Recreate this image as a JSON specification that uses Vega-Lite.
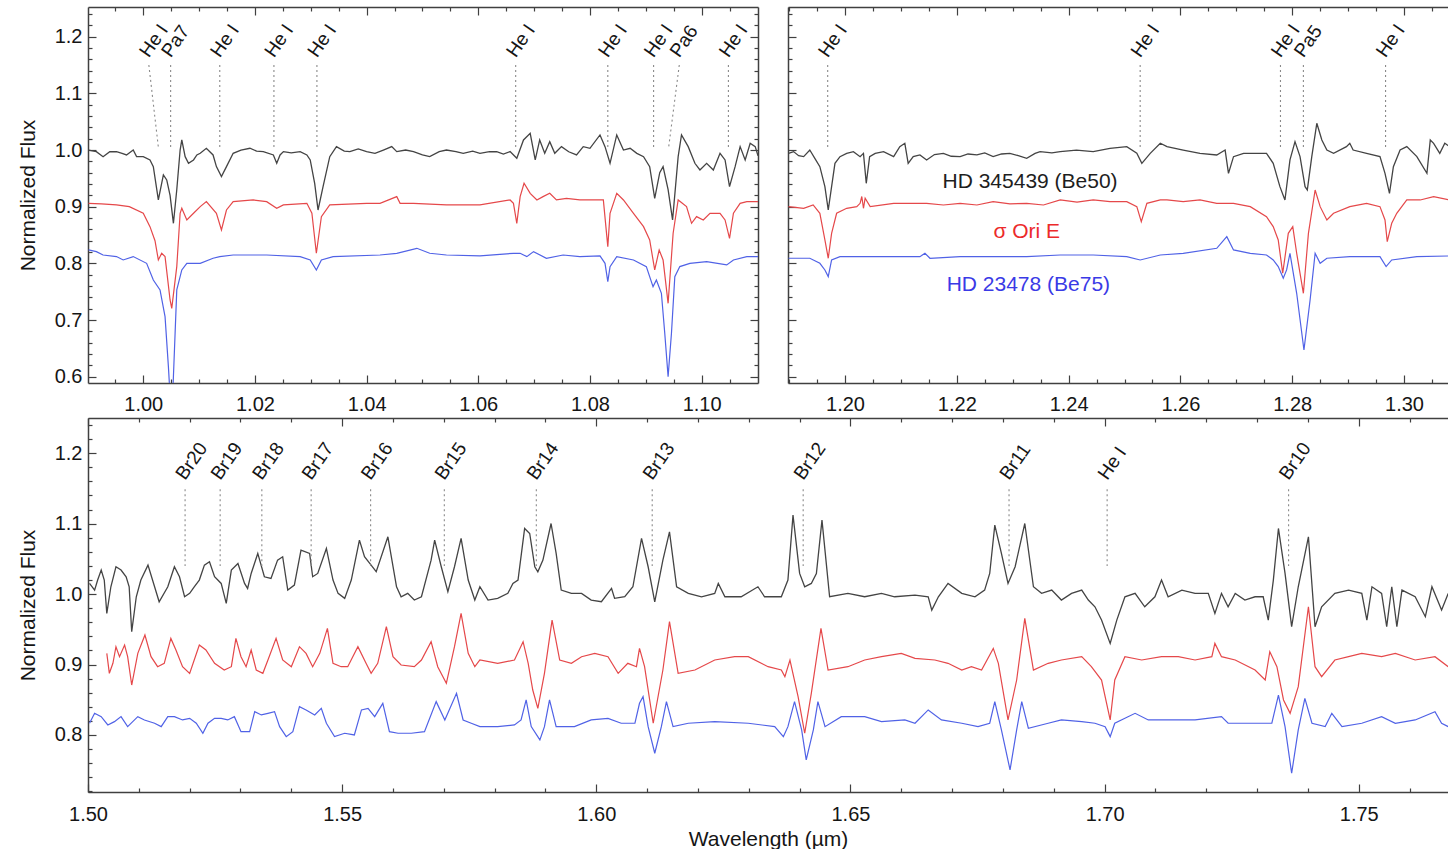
{
"$schema":"https://vega.github.io/schema/vega-lite/v6.json",
"usermeta":{"embedOptions":{"actions":false}},
"background":"white",
"padding":{"left":17,"top":6,"right":0,"bottom":0},
"config":{"font":"Liberation Sans","view":{"stroke":null},
"axis":{"grid":false,"labelFont":"Liberation Sans","labelFontSize":20,"labelColor":"#151515","titleFont":"Liberation Sans","titleFontSize":21,"titleFontWeight":"normal","titleColor":"#151515","domainColor":"#404040","domainWidth":1.5,"tickColor":"#404040","tickWidth":1.2,"labelFlush":false,"labelOverlap":false}},
"datasets":{
"tlK":[{"w":0.9902,"f":1.0},{"w":0.9916,"f":0.9972},{"w":0.9928,"f":0.9883},{"w":0.994,"f":0.997},{"w":0.9952,"f":0.9972},{"w":0.9962,"f":0.994},{"w":0.997,"f":0.9913},{"w":0.9982,"f":1.0},{"w":0.9988,"f":0.9883},{"w":1.0,"f":0.9883},{"w":1.0012,"f":0.9825},{"w":1.0018,"f":0.9707},{"w":1.0027,"f":0.912},{"w":1.0036,"f":0.956},{"w":1.0042,"f":0.9472},{"w":1.0048,"f":0.92},{"w":1.0054,"f":0.8707},{"w":1.006,"f":0.93},{"w":1.0066,"f":1.0},{"w":1.0069,"f":1.0178},{"w":1.0075,"f":0.9883},{"w":1.0081,"f":0.9766},{"w":1.009,"f":0.9825},{"w":1.0096,"f":0.9913},{"w":1.0102,"f":0.9942},{"w":1.0113,"f":1.0031},{"w":1.0125,"f":0.9913},{"w":1.0131,"f":0.9707},{"w":1.014,"f":0.9531},{"w":1.0149,"f":0.9707},{"w":1.0161,"f":0.9942},{"w":1.0175,"f":1.0},{"w":1.0191,"f":1.0031},{"w":1.0203,"f":0.998},{"w":1.0215,"f":0.9972},{"w":1.0233,"f":0.9913},{"w":1.0239,"f":0.9766},{"w":1.0245,"f":0.9913},{"w":1.0251,"f":0.9972},{"w":1.0265,"f":0.995},{"w":1.0281,"f":0.9972},{"w":1.0293,"f":0.9913},{"w":1.0299,"f":0.9825},{"w":1.0307,"f":0.9413},{"w":1.0313,"f":0.8942},{"w":1.0322,"f":0.9354},{"w":1.0334,"f":0.9883},{"w":1.0346,"f":1.006},{"w":1.036,"f":0.998},{"w":1.037,"f":0.9972},{"w":1.0385,"f":1.002},{"w":1.04,"f":0.9972},{"w":1.0415,"f":0.994},{"w":1.043,"f":1.0},{"w":1.0445,"f":1.006},{"w":1.0454,"f":0.9972},{"w":1.047,"f":1.0},{"w":1.0484,"f":0.9972},{"w":1.05,"f":0.9913},{"w":1.0513,"f":0.9883},{"w":1.053,"f":0.9972},{"w":1.0543,"f":1.0},{"w":1.056,"f":0.9972},{"w":1.0573,"f":0.9942},{"w":1.059,"f":0.998},{"w":1.0603,"f":0.9942},{"w":1.062,"f":0.997},{"w":1.0633,"f":0.9972},{"w":1.0645,"f":0.993},{"w":1.0657,"f":0.9972},{"w":1.0669,"f":0.9854},{"w":1.0681,"f":1.0178},{"w":1.0693,"f":1.0295},{"w":1.0702,"f":0.9825},{"w":1.071,"f":1.0178},{"w":1.0719,"f":0.9942},{"w":1.0728,"f":1.0148},{"w":1.0737,"f":0.9942},{"w":1.0749,"f":1.006},{"w":1.0762,"f":0.997},{"w":1.0776,"f":0.9913},{"w":1.0788,"f":1.006},{"w":1.08,"f":1.0031},{"w":1.0818,"f":1.0266},{"w":1.0827,"f":1.006},{"w":1.0836,"f":0.9766},{"w":1.0848,"f":1.0266},{"w":1.086,"f":1.0},{"w":1.0872,"f":1.0031},{"w":1.0884,"f":0.9942},{"w":1.0896,"f":0.9883},{"w":1.0907,"f":0.9707},{"w":1.0916,"f":0.9148},{"w":1.0925,"f":0.96},{"w":1.0931,"f":0.9707},{"w":1.094,"f":0.93},{"w":1.0948,"f":0.8766},{"w":1.0958,"f":0.9883},{"w":1.0964,"f":1.0266},{"w":1.0976,"f":1.006},{"w":1.0988,"f":0.9766},{"w":1.0997,"f":0.9648},{"w":1.1009,"f":0.9766},{"w":1.1021,"f":0.9648},{"w":1.1033,"f":0.9942},{"w":1.1042,"f":0.9825},{"w":1.105,"f":0.9353},{"w":1.106,"f":0.9707},{"w":1.1069,"f":1.006},{"w":1.1078,"f":0.9825},{"w":1.1087,"f":1.0119},{"w":1.1096,"f":1.006},{"w":1.1101,"f":0.99}],
"tlR":[{"w":0.9902,"f":0.906},{"w":0.9925,"f":0.905},{"w":0.9952,"f":0.9031},{"w":0.9975,"f":0.9001},{"w":1.0,"f":0.8884},{"w":1.0012,"f":0.8648},{"w":1.0021,"f":0.84},{"w":1.0027,"f":0.806},{"w":1.0033,"f":0.8178},{"w":1.0039,"f":0.812},{"w":1.0048,"f":0.7354},{"w":1.0051,"f":0.7207},{"w":1.006,"f":0.7943},{"w":1.0066,"f":0.8884},{"w":1.0069,"f":0.8972},{"w":1.0078,"f":0.8766},{"w":1.009,"f":0.8884},{"w":1.0102,"f":0.9001},{"w":1.0113,"f":0.9089},{"w":1.0131,"f":0.8884},{"w":1.014,"f":0.8589},{"w":1.0149,"f":0.8942},{"w":1.0161,"f":0.9089},{"w":1.0197,"f":0.9119},{"w":1.0221,"f":0.9089},{"w":1.0239,"f":0.8972},{"w":1.0251,"f":0.9031},{"w":1.0293,"f":0.906},{"w":1.0302,"f":0.8884},{"w":1.031,"f":0.8178},{"w":1.0319,"f":0.8825},{"w":1.0334,"f":0.9031},{"w":1.04,"f":0.906},{"w":1.0424,"f":0.906},{"w":1.0454,"f":0.9178},{"w":1.046,"f":0.906},{"w":1.0484,"f":0.906},{"w":1.0543,"f":0.9031},{"w":1.0603,"f":0.9031},{"w":1.0657,"f":0.9119},{"w":1.0663,"f":0.906},{"w":1.0669,"f":0.8707},{"w":1.0675,"f":0.9178},{"w":1.0682,"f":0.9413},{"w":1.0693,"f":0.9236},{"w":1.0705,"f":0.9119},{"w":1.0716,"f":0.9178},{"w":1.0728,"f":0.9236},{"w":1.074,"f":0.9119},{"w":1.0758,"f":0.9148},{"w":1.0782,"f":0.9119},{"w":1.0806,"f":0.9119},{"w":1.0824,"f":0.9119},{"w":1.0832,"f":0.8295},{"w":1.0836,"f":0.8884},{"w":1.0848,"f":0.9236},{"w":1.086,"f":0.9119},{"w":1.0878,"f":0.8884},{"w":1.0896,"f":0.8648},{"w":1.0907,"f":0.8413},{"w":1.0916,"f":0.7884},{"w":1.0924,"f":0.8237},{"w":1.0931,"f":0.806},{"w":1.094,"f":0.7295},{"w":1.0949,"f":0.8531},{"w":1.0958,"f":0.9119},{"w":1.0973,"f":0.9001},{"w":1.0982,"f":0.8707},{"w":1.0991,"f":0.8825},{"w":1.1003,"f":0.8766},{"w":1.1015,"f":0.8884},{"w":1.1033,"f":0.8884},{"w":1.1042,"f":0.8766},{"w":1.105,"f":0.8442},{"w":1.1057,"f":0.8884},{"w":1.1069,"f":0.906},{"w":1.1081,"f":0.9089},{"w":1.1101,"f":0.9089}],
"tlB":[{"w":0.9902,"f":0.8237},{"w":0.9916,"f":0.8207},{"w":0.9928,"f":0.8148},{"w":0.9952,"f":0.812},{"w":0.9964,"f":0.806},{"w":0.9982,"f":0.812},{"w":1.0006,"f":0.8001},{"w":1.0018,"f":0.7707},{"w":1.003,"f":0.7531},{"w":1.0039,"f":0.706},{"w":1.0045,"f":0.6178},{"w":1.0049,"f":0.55},{"w":1.0052,"f":0.55},{"w":1.0057,"f":0.6766},{"w":1.006,"f":0.7531},{"w":1.0069,"f":0.7884},{"w":1.0078,"f":0.8001},{"w":1.0102,"f":0.8001},{"w":1.0125,"f":0.809},{"w":1.0137,"f":0.8119},{"w":1.0161,"f":0.8148},{"w":1.0221,"f":0.8148},{"w":1.0281,"f":0.8119},{"w":1.0299,"f":0.806},{"w":1.031,"f":0.7884},{"w":1.0319,"f":0.806},{"w":1.034,"f":0.8119},{"w":1.0424,"f":0.8148},{"w":1.0454,"f":0.8178},{"w":1.049,"f":0.8266},{"w":1.0513,"f":0.8178},{"w":1.0543,"f":0.8148},{"w":1.0603,"f":0.8131},{"w":1.0663,"f":0.8178},{"w":1.0675,"f":0.8178},{"w":1.0687,"f":0.8119},{"w":1.0699,"f":0.8207},{"w":1.0722,"f":0.809},{"w":1.0752,"f":0.8148},{"w":1.0782,"f":0.8119},{"w":1.0818,"f":0.8131},{"w":1.0827,"f":0.8001},{"w":1.0832,"f":0.7678},{"w":1.0836,"f":0.7943},{"w":1.0848,"f":0.8119},{"w":1.0878,"f":0.806},{"w":1.0901,"f":0.7943},{"w":1.0913,"f":0.759},{"w":1.0919,"f":0.7707},{"w":1.0928,"f":0.7472},{"w":1.0934,"f":0.6766},{"w":1.094,"f":0.6001},{"w":1.0946,"f":0.6766},{"w":1.0952,"f":0.7766},{"w":1.0961,"f":0.7943},{"w":1.0979,"f":0.8001},{"w":1.1009,"f":0.8031},{"w":1.1045,"f":0.7972},{"w":1.1057,"f":0.806},{"w":1.1081,"f":0.8119},{"w":1.1101,"f":0.8119}],
"trK":[{"w":1.1899,"f":0.9942},{"w":1.1908,"f":0.9972},{"w":1.1917,"f":0.99},{"w":1.1926,"f":0.9883},{"w":1.1937,"f":1.0},{"w":1.1946,"f":0.9854},{"w":1.1955,"f":0.9707},{"w":1.1964,"f":0.9354},{"w":1.197,"f":0.8942},{"w":1.1976,"f":0.9354},{"w":1.1982,"f":0.9766},{"w":1.1991,"f":0.9883},{"w":1.2003,"f":0.9942},{"w":1.2015,"f":0.9972},{"w":1.2027,"f":0.9883},{"w":1.2033,"f":0.9942},{"w":1.2038,"f":0.9413},{"w":1.2044,"f":0.9883},{"w":1.2054,"f":0.9942},{"w":1.2069,"f":0.9972},{"w":1.2087,"f":0.9883},{"w":1.2098,"f":1.006},{"w":1.2107,"f":1.0119},{"w":1.2113,"f":0.9766},{"w":1.2122,"f":0.9883},{"w":1.2134,"f":0.9913},{"w":1.2146,"f":0.9825},{"w":1.216,"f":0.992},{"w":1.2176,"f":0.9942},{"w":1.219,"f":0.989},{"w":1.2206,"f":0.9883},{"w":1.222,"f":0.993},{"w":1.2236,"f":0.9913},{"w":1.225,"f":0.995},{"w":1.2265,"f":0.9883},{"w":1.228,"f":0.993},{"w":1.2295,"f":0.9942},{"w":1.231,"f":0.99},{"w":1.2325,"f":0.9854},{"w":1.234,"f":0.994},{"w":1.2349,"f":0.9972},{"w":1.237,"f":0.995},{"w":1.2385,"f":0.9972},{"w":1.2414,"f":1.0},{"w":1.2444,"f":0.9972},{"w":1.2474,"f":1.0031},{"w":1.2504,"f":1.006},{"w":1.2522,"f":0.9942},{"w":1.2531,"f":0.9766},{"w":1.2546,"f":0.9942},{"w":1.2564,"f":1.0119},{"w":1.2576,"f":1.006},{"w":1.2605,"f":1.0},{"w":1.2635,"f":0.9942},{"w":1.2665,"f":0.9913},{"w":1.268,"f":1.0},{"w":1.2686,"f":0.9589},{"w":1.2695,"f":0.9883},{"w":1.2713,"f":0.9942},{"w":1.2731,"f":0.9942},{"w":1.2754,"f":0.9942},{"w":1.2766,"f":0.9766},{"w":1.2778,"f":0.9354},{"w":1.2787,"f":0.9119},{"w":1.2796,"f":0.9825},{"w":1.2805,"f":1.0148},{"w":1.2814,"f":0.9883},{"w":1.2823,"f":0.9354},{"w":1.2827,"f":0.9295},{"w":1.2835,"f":0.9883},{"w":1.2844,"f":1.0472},{"w":1.2853,"f":1.0178},{"w":1.2862,"f":1.0},{"w":1.2874,"f":0.9942},{"w":1.2897,"f":1.006},{"w":1.2903,"f":1.0119},{"w":1.2909,"f":1.0},{"w":1.2933,"f":0.9942},{"w":1.2957,"f":0.9883},{"w":1.2966,"f":0.9589},{"w":1.2974,"f":0.9236},{"w":1.2981,"f":0.9707},{"w":1.2993,"f":1.0},{"w":1.3005,"f":1.006},{"w":1.3023,"f":0.9883},{"w":1.3041,"f":0.9589},{"w":1.3047,"f":1.0178},{"w":1.3053,"f":1.0119},{"w":1.3064,"f":0.9942},{"w":1.3073,"f":1.0119},{"w":1.3082,"f":1.006}],
"trR":[{"w":1.1899,"f":0.9001},{"w":1.1926,"f":0.8972},{"w":1.1943,"f":0.9031},{"w":1.1955,"f":0.8884},{"w":1.1964,"f":0.8413},{"w":1.197,"f":0.809},{"w":1.1976,"f":0.853},{"w":1.1985,"f":0.8884},{"w":1.2003,"f":0.8972},{"w":1.2021,"f":0.9001},{"w":1.2027,"f":0.906},{"w":1.203,"f":0.918},{"w":1.2033,"f":0.8972},{"w":1.2036,"f":0.915},{"w":1.2045,"f":0.9001},{"w":1.2087,"f":0.906},{"w":1.2146,"f":0.906},{"w":1.2176,"f":0.903},{"w":1.2206,"f":0.906},{"w":1.2236,"f":0.903},{"w":1.2265,"f":0.9089},{"w":1.2295,"f":0.905},{"w":1.2325,"f":0.906},{"w":1.2355,"f":0.903},{"w":1.2385,"f":0.9119},{"w":1.2415,"f":0.908},{"w":1.2444,"f":0.9119},{"w":1.2474,"f":0.909},{"w":1.2504,"f":0.9089},{"w":1.2522,"f":0.9001},{"w":1.253,"f":0.8736},{"w":1.254,"f":0.906},{"w":1.2564,"f":0.9119},{"w":1.2576,"f":0.9119},{"w":1.2605,"f":0.9089},{"w":1.2635,"f":0.9119},{"w":1.2665,"f":0.906},{"w":1.2695,"f":0.906},{"w":1.2725,"f":0.9001},{"w":1.2754,"f":0.8825},{"w":1.2766,"f":0.8648},{"w":1.2775,"f":0.8413},{"w":1.2783,"f":0.7825},{"w":1.2793,"f":0.853},{"w":1.2801,"f":0.8648},{"w":1.2808,"f":0.8178},{"w":1.282,"f":0.7472},{"w":1.2829,"f":0.853},{"w":1.2841,"f":0.9295},{"w":1.285,"f":0.9001},{"w":1.2862,"f":0.8766},{"w":1.2874,"f":0.8884},{"w":1.2903,"f":0.9001},{"w":1.2933,"f":0.906},{"w":1.2957,"f":0.9001},{"w":1.2966,"f":0.8766},{"w":1.297,"f":0.8384},{"w":1.2978,"f":0.8707},{"w":1.2987,"f":0.8884},{"w":1.3005,"f":0.9119},{"w":1.3029,"f":0.9119},{"w":1.3053,"f":0.9178},{"w":1.3082,"f":0.9119}],
"trB":[{"w":1.1899,"f":0.809},{"w":1.1937,"f":0.809},{"w":1.1955,"f":0.8001},{"w":1.1964,"f":0.7884},{"w":1.197,"f":0.7766},{"w":1.1976,"f":0.806},{"w":1.1991,"f":0.8119},{"w":1.2027,"f":0.8119},{"w":1.2087,"f":0.8119},{"w":1.2134,"f":0.8119},{"w":1.2143,"f":0.8178},{"w":1.2152,"f":0.809},{"w":1.2206,"f":0.8119},{"w":1.2265,"f":0.8119},{"w":1.2325,"f":0.8119},{"w":1.2385,"f":0.8148},{"w":1.2444,"f":0.8148},{"w":1.2504,"f":0.8119},{"w":1.2528,"f":0.806},{"w":1.2564,"f":0.8148},{"w":1.2605,"f":0.8178},{"w":1.2665,"f":0.8266},{"w":1.2683,"f":0.8472},{"w":1.2695,"f":0.8237},{"w":1.2725,"f":0.8178},{"w":1.2754,"f":0.8148},{"w":1.2766,"f":0.806},{"w":1.2775,"f":0.7943},{"w":1.2784,"f":0.7737},{"w":1.279,"f":0.7884},{"w":1.2796,"f":0.8178},{"w":1.2808,"f":0.7472},{"w":1.2821,"f":0.6472},{"w":1.2832,"f":0.7354},{"w":1.2841,"f":0.8178},{"w":1.285,"f":0.8001},{"w":1.2862,"f":0.809},{"w":1.2903,"f":0.8119},{"w":1.2957,"f":0.8119},{"w":1.2968,"f":0.7943},{"w":1.2978,"f":0.806},{"w":1.3023,"f":0.8119},{"w":1.3082,"f":0.8131}],
"btK":[{"w":1.5003,"f":1.0151},{"w":1.5013,"f":1.0057},{"w":1.5019,"f":1.0199},{"w":1.5026,"f":1.0341},{"w":1.5032,"f":1.0199},{"w":1.5037,"f":0.9726},{"w":1.5045,"f":1.0104},{"w":1.5055,"f":1.0388},{"w":1.5065,"f":1.0341},{"w":1.5075,"f":1.0246},{"w":1.5081,"f":1.0104},{"w":1.5086,"f":0.9466},{"w":1.5095,"f":0.9962},{"w":1.5104,"f":1.0199},{"w":1.5118,"f":1.0411},{"w":1.5131,"f":1.0104},{"w":1.514,"f":0.9891},{"w":1.5157,"f":1.0104},{"w":1.517,"f":1.0388},{"w":1.518,"f":1.0246},{"w":1.519,"f":0.9962},{"w":1.52,"f":1.001},{"w":1.5209,"f":1.0104},{"w":1.5219,"f":1.0199},{"w":1.5229,"f":1.0411},{"w":1.5239,"f":1.0459},{"w":1.5249,"f":1.0246},{"w":1.5262,"f":1.0151},{"w":1.5272,"f":0.9868},{"w":1.5282,"f":1.0341},{"w":1.5295,"f":1.0435},{"w":1.5308,"f":1.0151},{"w":1.5314,"f":1.008},{"w":1.5321,"f":1.0293},{"w":1.5334,"f":1.0577},{"w":1.5347,"f":1.0246},{"w":1.536,"f":1.0222},{"w":1.5373,"f":1.0482},{"w":1.5383,"f":1.053},{"w":1.5393,"f":1.0057},{"w":1.5406,"f":1.0128},{"w":1.5419,"f":1.0624},{"w":1.5436,"f":1.0577},{"w":1.5442,"f":1.0246},{"w":1.5452,"f":1.0293},{"w":1.5469,"f":1.0648},{"w":1.5482,"f":1.0199},{"w":1.5492,"f":1.001},{"w":1.5505,"f":0.9939},{"w":1.5518,"f":1.0199},{"w":1.5534,"f":1.0766},{"w":1.5544,"f":1.053},{"w":1.5557,"f":1.0411},{"w":1.5567,"f":1.0317},{"w":1.559,"f":1.0813},{"w":1.5607,"f":1.0104},{"w":1.5616,"f":0.9962},{"w":1.5629,"f":1.001},{"w":1.5642,"f":0.9915},{"w":1.5656,"f":0.9962},{"w":1.5675,"f":1.0482},{"w":1.5682,"f":1.0766},{"w":1.5695,"f":1.0388},{"w":1.5708,"f":1.0033},{"w":1.5721,"f":1.0388},{"w":1.5734,"f":1.079},{"w":1.5748,"f":1.0199},{"w":1.5761,"f":0.9915},{"w":1.5771,"f":1.0104},{"w":1.5787,"f":0.9915},{"w":1.5806,"f":0.9939},{"w":1.5826,"f":1.001},{"w":1.5836,"f":1.0151},{"w":1.5846,"f":1.0199},{"w":1.5859,"f":1.0932},{"w":1.5869,"f":1.0861},{"w":1.5879,"f":1.0388},{"w":1.5885,"f":1.0317},{"w":1.5895,"f":1.0482},{"w":1.5911,"f":1.1002},{"w":1.5921,"f":1.0577},{"w":1.5931,"f":1.0057},{"w":1.5951,"f":1.001},{"w":1.5971,"f":1.001},{"w":1.599,"f":0.9915},{"w":1.601,"f":0.9891},{"w":1.603,"f":1.008},{"w":1.6036,"f":0.9939},{"w":1.6056,"f":0.9962},{"w":1.6072,"f":1.0104},{"w":1.6089,"f":1.079},{"w":1.6102,"f":1.0388},{"w":1.6115,"f":0.9891},{"w":1.6131,"f":1.0482},{"w":1.6144,"f":1.0884},{"w":1.6158,"f":1.0104},{"w":1.6181,"f":1.001},{"w":1.6207,"f":0.9962},{"w":1.6233,"f":1.001},{"w":1.624,"f":1.0151},{"w":1.6253,"f":0.9962},{"w":1.6285,"f":0.9962},{"w":1.6318,"f":1.0104},{"w":1.6331,"f":0.9962},{"w":1.6364,"f":0.9962},{"w":1.6377,"f":1.0199},{"w":1.6387,"f":1.1121},{"w":1.64,"f":1.0293},{"w":1.641,"f":1.0104},{"w":1.6423,"f":1.0151},{"w":1.6433,"f":1.0293},{"w":1.6444,"f":1.105},{"w":1.6459,"f":0.9962},{"w":1.6495,"f":1.001},{"w":1.6528,"f":0.9962},{"w":1.6561,"f":1.001},{"w":1.6587,"f":0.9962},{"w":1.6627,"f":0.9986},{"w":1.6653,"f":0.9962},{"w":1.666,"f":0.9773},{"w":1.6673,"f":0.9962},{"w":1.6692,"f":1.0151},{"w":1.6719,"f":1.001},{"w":1.6745,"f":0.9962},{"w":1.6764,"f":1.0057},{"w":1.6774,"f":1.0293},{"w":1.6784,"f":1.0979},{"w":1.6797,"f":1.0577},{"w":1.681,"f":1.0151},{"w":1.6824,"f":1.0388},{"w":1.6843,"f":1.1002},{"w":1.686,"f":1.0104},{"w":1.6876,"f":1.001},{"w":1.6896,"f":1.0057},{"w":1.6915,"f":0.9915},{"w":1.6935,"f":1.001},{"w":1.6955,"f":1.0057},{"w":1.6968,"f":0.9915},{"w":1.6981,"f":0.982},{"w":1.6994,"f":0.9631},{"w":1.7011,"f":0.93},{"w":1.7024,"f":0.9631},{"w":1.704,"f":0.9962},{"w":1.706,"f":1.001},{"w":1.7079,"f":0.982},{"w":1.7099,"f":0.9962},{"w":1.7112,"f":1.0199},{"w":1.7125,"f":0.9962},{"w":1.7152,"f":1.0057},{"w":1.7178,"f":1.001},{"w":1.7204,"f":1.001},{"w":1.7217,"f":0.9726},{"w":1.723,"f":1.001},{"w":1.7243,"f":0.982},{"w":1.7257,"f":1.001},{"w":1.7276,"f":0.9915},{"w":1.7296,"f":0.9962},{"w":1.7312,"f":0.9962},{"w":1.7322,"f":0.9631},{"w":1.7332,"f":1.0199},{"w":1.7342,"f":1.0932},{"w":1.7355,"f":1.0293},{"w":1.7368,"f":0.9537},{"w":1.7381,"f":1.0104},{"w":1.7401,"f":1.0813},{"w":1.7414,"f":0.9537},{"w":1.7427,"f":0.982},{"w":1.7453,"f":1.001},{"w":1.748,"f":1.0057},{"w":1.7506,"f":1.001},{"w":1.7516,"f":0.9631},{"w":1.7526,"f":1.0104},{"w":1.7545,"f":1.001},{"w":1.7555,"f":0.9537},{"w":1.7565,"f":1.0104},{"w":1.7575,"f":0.9537},{"w":1.7585,"f":1.0057},{"w":1.7611,"f":0.9962},{"w":1.7631,"f":0.9679},{"w":1.7644,"f":1.0104},{"w":1.7663,"f":0.9773},{"w":1.7676,"f":1.001}],
"btR":[{"w":1.5037,"f":0.9158},{"w":1.5042,"f":0.8875},{"w":1.5049,"f":0.9017},{"w":1.5055,"f":0.9253},{"w":1.5062,"f":0.9111},{"w":1.5072,"f":0.9277},{"w":1.5078,"f":0.9111},{"w":1.5086,"f":0.8709},{"w":1.5098,"f":0.9158},{"w":1.5112,"f":0.9419},{"w":1.5124,"f":0.9111},{"w":1.5137,"f":0.8969},{"w":1.515,"f":0.9017},{"w":1.5163,"f":0.9371},{"w":1.5173,"f":0.9206},{"w":1.5186,"f":0.8969},{"w":1.52,"f":0.8875},{"w":1.5219,"f":0.9277},{"w":1.5232,"f":0.9206},{"w":1.5249,"f":0.9017},{"w":1.5268,"f":0.8922},{"w":1.5282,"f":0.8969},{"w":1.5291,"f":0.9371},{"w":1.5301,"f":0.9111},{"w":1.5311,"f":0.8969},{"w":1.5321,"f":0.9206},{"w":1.5331,"f":0.8922},{"w":1.5344,"f":0.8875},{"w":1.5354,"f":0.9064},{"w":1.537,"f":0.9371},{"w":1.5383,"f":0.9064},{"w":1.54,"f":0.8969},{"w":1.5416,"f":0.9253},{"w":1.5429,"f":0.9158},{"w":1.5442,"f":0.8969},{"w":1.5456,"f":0.9158},{"w":1.5471,"f":0.9513},{"w":1.5482,"f":0.9017},{"w":1.5498,"f":0.8969},{"w":1.5511,"f":0.8969},{"w":1.5531,"f":0.9253},{"w":1.5547,"f":0.9017},{"w":1.5557,"f":0.8875},{"w":1.557,"f":0.9017},{"w":1.5587,"f":0.9537},{"w":1.56,"f":0.9111},{"w":1.5616,"f":0.8993},{"w":1.5642,"f":0.8969},{"w":1.5656,"f":0.9064},{"w":1.5675,"f":0.9324},{"w":1.5688,"f":0.8969},{"w":1.5705,"f":0.8733},{"w":1.5721,"f":0.9253},{"w":1.5734,"f":0.9726},{"w":1.5748,"f":0.9158},{"w":1.5761,"f":0.8969},{"w":1.5771,"f":0.9064},{"w":1.5806,"f":0.9017},{"w":1.5839,"f":0.9064},{"w":1.5856,"f":0.9324},{"w":1.5866,"f":0.9017},{"w":1.5875,"f":0.8638},{"w":1.5885,"f":0.8378},{"w":1.5898,"f":0.8875},{"w":1.5913,"f":0.9631},{"w":1.5928,"f":0.9064},{"w":1.5951,"f":0.9017},{"w":1.5971,"f":0.9111},{"w":1.5997,"f":0.9158},{"w":1.6023,"f":0.9111},{"w":1.6043,"f":0.8875},{"w":1.6062,"f":0.9017},{"w":1.6079,"f":0.8969},{"w":1.6085,"f":0.9229},{"w":1.6095,"f":0.8969},{"w":1.6112,"f":0.8166},{"w":1.6131,"f":0.8922},{"w":1.6144,"f":0.9608},{"w":1.6161,"f":0.8875},{"w":1.6194,"f":0.8922},{"w":1.6233,"f":0.9064},{"w":1.6272,"f":0.9111},{"w":1.6299,"f":0.9111},{"w":1.6338,"f":0.8969},{"w":1.6364,"f":0.8922},{"w":1.6371,"f":0.8828},{"w":1.6381,"f":0.9064},{"w":1.6397,"f":0.8544},{"w":1.641,"f":0.8024},{"w":1.6423,"f":0.8591},{"w":1.6442,"f":0.9513},{"w":1.6456,"f":0.8922},{"w":1.6495,"f":0.8969},{"w":1.6528,"f":0.9064},{"w":1.6561,"f":0.9111},{"w":1.66,"f":0.9158},{"w":1.6627,"f":0.9088},{"w":1.6666,"f":0.9064},{"w":1.6692,"f":0.9017},{"w":1.6719,"f":0.8922},{"w":1.6738,"f":0.8969},{"w":1.6758,"f":0.8922},{"w":1.6781,"f":0.9229},{"w":1.6791,"f":0.9017},{"w":1.681,"f":0.8213},{"w":1.6827,"f":0.878},{"w":1.6843,"f":0.9655},{"w":1.686,"f":0.8922},{"w":1.6889,"f":0.9017},{"w":1.6915,"f":0.9064},{"w":1.6955,"f":0.9111},{"w":1.6974,"f":0.8969},{"w":1.6994,"f":0.878},{"w":1.7011,"f":0.8213},{"w":1.702,"f":0.878},{"w":1.704,"f":0.9111},{"w":1.7073,"f":0.9064},{"w":1.7112,"f":0.9111},{"w":1.7145,"f":0.9111},{"w":1.7178,"f":0.9064},{"w":1.7211,"f":0.9111},{"w":1.7217,"f":0.93},{"w":1.723,"f":0.9111},{"w":1.7257,"f":0.9064},{"w":1.7296,"f":0.8922},{"w":1.7316,"f":0.878},{"w":1.7325,"f":0.9182},{"w":1.7339,"f":0.8969},{"w":1.7352,"f":0.8497},{"w":1.7365,"f":0.8307},{"w":1.7381,"f":0.8686},{"w":1.7401,"f":0.982},{"w":1.7414,"f":0.8969},{"w":1.7427,"f":0.8828},{"w":1.7453,"f":0.9064},{"w":1.748,"f":0.9111},{"w":1.7506,"f":0.9158},{"w":1.7545,"f":0.9111},{"w":1.7572,"f":0.9158},{"w":1.7611,"f":0.9064},{"w":1.765,"f":0.9111},{"w":1.7676,"f":0.8969}],
"btB":[{"w":1.5003,"f":0.8166},{"w":1.5013,"f":0.8307},{"w":1.5026,"f":0.826},{"w":1.5039,"f":0.8142},{"w":1.5052,"f":0.8189},{"w":1.5065,"f":0.826},{"w":1.5078,"f":0.8118},{"w":1.5098,"f":0.826},{"w":1.5111,"f":0.8213},{"w":1.5131,"f":0.8166},{"w":1.5144,"f":0.8118},{"w":1.5157,"f":0.826},{"w":1.517,"f":0.826},{"w":1.5186,"f":0.8213},{"w":1.52,"f":0.8236},{"w":1.5213,"f":0.8166},{"w":1.5226,"f":0.8024},{"w":1.5236,"f":0.8166},{"w":1.5249,"f":0.8236},{"w":1.5262,"f":0.8236},{"w":1.5275,"f":0.8213},{"w":1.5288,"f":0.826},{"w":1.5301,"f":0.8047},{"w":1.5318,"f":0.8047},{"w":1.5328,"f":0.8331},{"w":1.5341,"f":0.8284},{"w":1.5354,"f":0.8307},{"w":1.5367,"f":0.8331},{"w":1.5377,"f":0.8118},{"w":1.539,"f":0.7976},{"w":1.5403,"f":0.8047},{"w":1.5416,"f":0.8402},{"w":1.5429,"f":0.8355},{"w":1.5446,"f":0.8284},{"w":1.5459,"f":0.8378},{"w":1.5469,"f":0.8166},{"w":1.5485,"f":0.7976},{"w":1.5505,"f":0.8024},{"w":1.5524,"f":0.8},{"w":1.5538,"f":0.8355},{"w":1.5551,"f":0.8378},{"w":1.5564,"f":0.826},{"w":1.558,"f":0.8449},{"w":1.5593,"f":0.8047},{"w":1.561,"f":0.8024},{"w":1.5636,"f":0.8024},{"w":1.5662,"f":0.8047},{"w":1.5685,"f":0.8473},{"w":1.5702,"f":0.8213},{"w":1.5725,"f":0.8591},{"w":1.5738,"f":0.8213},{"w":1.5754,"f":0.8166},{"w":1.5771,"f":0.8118},{"w":1.5806,"f":0.8118},{"w":1.5839,"f":0.8142},{"w":1.5852,"f":0.8213},{"w":1.5862,"f":0.8497},{"w":1.5872,"f":0.8118},{"w":1.5889,"f":0.7929},{"w":1.5898,"f":0.8118},{"w":1.5908,"f":0.8497},{"w":1.5921,"f":0.8118},{"w":1.5957,"f":0.8118},{"w":1.599,"f":0.8213},{"w":1.6023,"f":0.8236},{"w":1.6049,"f":0.8166},{"w":1.6076,"f":0.8166},{"w":1.6085,"f":0.8449},{"w":1.6092,"f":0.8544},{"w":1.6102,"f":0.8118},{"w":1.6115,"f":0.774},{"w":1.6128,"f":0.8118},{"w":1.6138,"f":0.8473},{"w":1.6151,"f":0.8118},{"w":1.6181,"f":0.8166},{"w":1.6233,"f":0.8189},{"w":1.6299,"f":0.8166},{"w":1.6351,"f":0.8118},{"w":1.6368,"f":0.7976},{"w":1.6377,"f":0.8118},{"w":1.639,"f":0.8473},{"w":1.6404,"f":0.8071},{"w":1.6413,"f":0.7646},{"w":1.6427,"f":0.8071},{"w":1.6436,"f":0.8473},{"w":1.645,"f":0.8118},{"w":1.6482,"f":0.826},{"w":1.6528,"f":0.826},{"w":1.6561,"f":0.8189},{"w":1.6607,"f":0.8213},{"w":1.6627,"f":0.8166},{"w":1.6653,"f":0.8355},{"w":1.6679,"f":0.8213},{"w":1.6719,"f":0.8166},{"w":1.6751,"f":0.8118},{"w":1.6774,"f":0.8166},{"w":1.6784,"f":0.8473},{"w":1.6797,"f":0.8071},{"w":1.6814,"f":0.7504},{"w":1.6827,"f":0.8071},{"w":1.6837,"f":0.8473},{"w":1.685,"f":0.8095},{"w":1.6889,"f":0.8166},{"w":1.6915,"f":0.8213},{"w":1.6955,"f":0.8189},{"w":1.6981,"f":0.8166},{"w":1.7001,"f":0.8118},{"w":1.7011,"f":0.7976},{"w":1.702,"f":0.8166},{"w":1.706,"f":0.8307},{"w":1.7086,"f":0.8213},{"w":1.7112,"f":0.8213},{"w":1.7178,"f":0.8213},{"w":1.723,"f":0.826},{"w":1.7243,"f":0.8166},{"w":1.7309,"f":0.8166},{"w":1.7329,"f":0.8166},{"w":1.7342,"f":0.8567},{"w":1.7355,"f":0.8118},{"w":1.7368,"f":0.7456},{"w":1.7381,"f":0.8071},{"w":1.7394,"f":0.852},{"w":1.7408,"f":0.8166},{"w":1.7434,"f":0.8118},{"w":1.7447,"f":0.8307},{"w":1.7467,"f":0.8118},{"w":1.7506,"f":0.8166},{"w":1.7545,"f":0.826},{"w":1.7572,"f":0.8166},{"w":1.7611,"f":0.8213},{"w":1.765,"f":0.8331},{"w":1.7663,"f":0.8166},{"w":1.7676,"f":0.8118}],
"tlL":[{"lab":"He I","wt":1.001,"wl":1.0027},{"lab":"Pa7","wt":1.0049,"wl":1.0049},{"lab":"He I","wt":1.0137,"wl":1.0137},{"lab":"He I","wt":1.0234,"wl":1.0234},{"lab":"He I","wt":1.0311,"wl":1.0311},{"lab":"He I","wt":1.0667,"wl":1.0667},{"lab":"He I","wt":1.0832,"wl":1.0832},{"lab":"He I","wt":1.0914,"wl":1.0914},{"lab":"Pa6","wt":1.096,"wl":1.0941},{"lab":"He I","wt":1.1048,"wl":1.1048}],
"trL":[{"lab":"He I","wt":1.1969,"wl":1.1969},{"lab":"He I","wt":1.2528,"wl":1.2528},{"lab":"He I","wt":1.2779,"wl":1.2779},{"lab":"Pa5","wt":1.282,"wl":1.282},{"lab":"He I","wt":1.2967,"wl":1.2967}],
"btL":[{"lab":"Br20","wt":1.5191,"wl":1.5191},{"lab":"Br19","wt":1.526,"wl":1.526},{"lab":"Br18","wt":1.5342,"wl":1.5342},{"lab":"Br17","wt":1.5439,"wl":1.5439},{"lab":"Br16","wt":1.5556,"wl":1.5556},{"lab":"Br15","wt":1.5701,"wl":1.5701},{"lab":"Br14","wt":1.5882,"wl":1.5882},{"lab":"Br13","wt":1.611,"wl":1.611},{"lab":"Br12","wt":1.6407,"wl":1.6407},{"lab":"Br11","wt":1.6812,"wl":1.6812},{"lab":"He I","wt":1.7005,"wl":1.7005},{"lab":"Br10","wt":1.7362,"wl":1.7362}],
"leg":[{"lab":"HD 345439 (Be50)","w":1.2331,"f":0.944},{"lab":"σ Ori E","w":1.2325,"f":0.856},{"lab":"HD 23478 (Be75)","w":1.2328,"f":0.762}]
},
"vconcat":[
{"hconcat":[
{"width":670,"height":376,
"layer":[
{"data":{"name":"tlK"},"mark":{"type":"line","color":"#444444","strokeWidth":1.3,"clip":true},
"encoding":{"x":{"field":"w","type":"quantitative","scale":{"domain":[0.9901,1.1101],"nice":false,"zero":false},"axis":{"orient":"bottom","values":[1.0,1.02,1.04,1.06,1.08,1.1],"format":".2f","tickSize":-8,"labelPadding":19,"title":null}},
"y":{"field":"f","type":"quantitative","scale":{"domain":[0.5889,1.2524],"nice":false,"zero":false},"axis":{"orient":"left","values":[0.6,0.7,0.8,0.9,1.0,1.1,1.2],"format":".1f","tickSize":-8,"labelPadding":14,"title":"Normalized Flux","titlePadding":16}}}},
{"data":{"name":"tlR"},"mark":{"type":"line","color":"#e5484a","strokeWidth":1.2,"clip":true},
"encoding":{"x":{"field":"w","type":"quantitative","scale":{"domain":[0.9901,1.1101],"nice":false,"zero":false},"axis":{"orient":"top","values":[1.0,1.02,1.04,1.06,1.08,1.1],"tickSize":-8,"labels":false,"title":null}},
"y":{"field":"f","type":"quantitative","scale":{"domain":[0.5889,1.2524],"nice":false,"zero":false},"axis":{"orient":"right","values":[0.6,0.7,0.8,0.9,1.0,1.1,1.2],"tickSize":-8,"labels":false,"title":null}}}},
{"data":{"name":"tlB"},"mark":{"type":"line","color":"#5062e6","strokeWidth":1.2,"clip":true},
"encoding":{"x":{"field":"w","type":"quantitative","scale":{"domain":[0.9901,1.1101],"nice":false,"zero":false},"axis":{"orient":"bottom","values":[0.995,1.005,1.01,1.015,1.025,1.03,1.035,1.045,1.05,1.055,1.065,1.07,1.075,1.085,1.09,1.095,1.105],"tickSize":-4,"labels":false,"domain":false,"title":null}},
"y":{"field":"f","type":"quantitative","scale":{"domain":[0.5889,1.2524],"nice":false,"zero":false},"axis":{"orient":"left","values":[0.62,0.64,0.66,0.68,0.72,0.74,0.76,0.78,0.82,0.84,0.86,0.88,0.92,0.94,0.96,0.98,1.02,1.04,1.06,1.08,1.12,1.14,1.16,1.18,1.22,1.24],"tickSize":-4,"labels":false,"domain":false,"title":null}}}},
{"data":{"name":"tlL"},"mark":{"type":"rule","color":"#8a8a8a","strokeWidth":1.1,"strokeDash":[2,3]},
"encoding":{"x":{"field":"wt","type":"quantitative","scale":{"domain":[0.9901,1.1101],"nice":false,"zero":false},"axis":{"orient":"top","values":[0.995,1.005,1.01,1.015,1.025,1.03,1.035,1.045,1.05,1.055,1.065,1.07,1.075,1.085,1.09,1.095,1.105],"tickSize":-4,"labels":false,"domain":false,"title":null}},"x2":{"field":"wl"},
"y":{"datum":1.15,"type":"quantitative","scale":{"domain":[0.5889,1.2524],"nice":false,"zero":false},"axis":{"orient":"right","values":[0.62,0.64,0.66,0.68,0.72,0.74,0.76,0.78,0.82,0.84,0.86,0.88,0.92,0.94,0.96,0.98,1.02,1.04,1.06,1.08,1.12,1.14,1.16,1.18,1.22,1.24],"tickSize":-4,"labels":false,"domain":false,"title":null}},"y2":{"datum":1.005}}},
{"data":{"name":"tlL"},"mark":{"type":"text","angle":305,"align":"left","baseline":"alphabetic","fontSize":19,"font":"Liberation Sans","color":"#151515"},
"encoding":{"x":{"field":"wt","type":"quantitative","scale":{"domain":[0.9901,1.1101],"nice":false,"zero":false},"axis":null},
"y":{"datum":1.1615,"type":"quantitative","scale":{"domain":[0.5889,1.2524],"nice":false,"zero":false},"axis":null},"text":{"field":"lab"}}}
],
"resolve":{"axis":{"x":"independent","y":"independent"}}},
{"width":660,"height":376,
"layer":[
{"data":{"name":"trK"},"mark":{"type":"line","color":"#444444","strokeWidth":1.3,"clip":true},
"encoding":{"x":{"field":"w","type":"quantitative","scale":{"domain":[1.1898,1.30787],"nice":false,"zero":false},"axis":{"orient":"bottom","values":[1.2,1.22,1.24,1.26,1.28,1.3],"format":".2f","tickSize":-8,"labelPadding":19,"title":null}},
"y":{"field":"f","type":"quantitative","scale":{"domain":[0.5889,1.2524],"nice":false,"zero":false},"axis":{"orient":"left","values":[0.6,0.7,0.8,0.9,1.0,1.1,1.2],"tickSize":-8,"labels":false,"title":null}}}},
{"data":{"name":"trR"},"mark":{"type":"line","color":"#e5484a","strokeWidth":1.2,"clip":true},
"encoding":{"x":{"field":"w","type":"quantitative","scale":{"domain":[1.1898,1.30787],"nice":false,"zero":false},"axis":{"orient":"top","values":[1.2,1.22,1.24,1.26,1.28,1.3],"tickSize":-8,"labels":false,"title":null}},
"y":{"field":"f","type":"quantitative","scale":{"domain":[0.5889,1.2524],"nice":false,"zero":false},"axis":null}}},
{"data":{"name":"trB"},"mark":{"type":"line","color":"#5062e6","strokeWidth":1.2,"clip":true},
"encoding":{"x":{"field":"w","type":"quantitative","scale":{"domain":[1.1898,1.30787],"nice":false,"zero":false},"axis":{"orient":"bottom","values":[1.19,1.195,1.205,1.21,1.215,1.225,1.23,1.235,1.245,1.25,1.255,1.265,1.27,1.275,1.285,1.29,1.295,1.305],"tickSize":-4,"labels":false,"domain":false,"title":null}},
"y":{"field":"f","type":"quantitative","scale":{"domain":[0.5889,1.2524],"nice":false,"zero":false},"axis":{"orient":"left","values":[0.62,0.64,0.66,0.68,0.72,0.74,0.76,0.78,0.82,0.84,0.86,0.88,0.92,0.94,0.96,0.98,1.02,1.04,1.06,1.08,1.12,1.14,1.16,1.18,1.22,1.24],"tickSize":-4,"labels":false,"domain":false,"title":null}}}},
{"data":{"name":"trL"},"mark":{"type":"rule","color":"#8a8a8a","strokeWidth":1.1,"strokeDash":[2,3]},
"encoding":{"x":{"field":"wt","type":"quantitative","scale":{"domain":[1.1898,1.30787],"nice":false,"zero":false},"axis":{"orient":"top","values":[1.19,1.195,1.205,1.21,1.215,1.225,1.23,1.235,1.245,1.25,1.255,1.265,1.27,1.275,1.285,1.29,1.295,1.305],"tickSize":-4,"labels":false,"domain":false,"title":null}},"x2":{"field":"wl"},
"y":{"datum":1.15,"type":"quantitative","scale":{"domain":[0.5889,1.2524],"nice":false,"zero":false},"axis":null},"y2":{"datum":1.005}}},
{"data":{"name":"trL"},"mark":{"type":"text","angle":305,"align":"left","baseline":"alphabetic","fontSize":19,"font":"Liberation Sans","color":"#151515"},
"encoding":{"x":{"field":"wt","type":"quantitative","scale":{"domain":[1.1898,1.30787],"nice":false,"zero":false},"axis":null},
"y":{"datum":1.1615,"type":"quantitative","scale":{"domain":[0.5889,1.2524],"nice":false,"zero":false},"axis":null},"text":{"field":"lab"}}},
{"data":{"name":"leg"},"mark":{"type":"text","align":"center","baseline":"middle","fontSize":21,"font":"Liberation Sans"},
"encoding":{"x":{"field":"w","type":"quantitative","scale":{"domain":[1.1898,1.30787],"nice":false,"zero":false},"axis":null},
"y":{"field":"f","type":"quantitative","scale":{"domain":[0.5889,1.2524],"nice":false,"zero":false},"axis":null},"text":{"field":"lab"},
"color":{"field":"lab","type":"nominal","scale":{"domain":["HD 345439 (Be50)","σ Ori E","HD 23478 (Be75)"],"range":["#1e1e1e","#ec2a2a","#3a3ae6"]},"legend":null}}}
],
"resolve":{"axis":{"x":"independent","y":"independent"}}}
],"spacing":28},
{"width":1360,"height":374,
"layer":[
{"data":{"name":"btK"},"mark":{"type":"line","color":"#444444","strokeWidth":1.3,"clip":true},
"encoding":{"x":{"field":"w","type":"quantitative","scale":{"domain":[1.5,1.76756],"nice":false,"zero":false},"axis":{"orient":"bottom","values":[1.5,1.55,1.6,1.65,1.7,1.75],"format":".2f","tickSize":-8,"labelPadding":20,"title":"Wavelength (µm)","titlePadding":4}},
"y":{"field":"f","type":"quantitative","scale":{"domain":[0.719,1.25],"nice":false,"zero":false},"axis":{"orient":"left","values":[0.8,0.9,1.0,1.1,1.2],"format":".1f","tickSize":-8,"labelPadding":14,"title":"Normalized Flux","titlePadding":16}}}},
{"data":{"name":"btR"},"mark":{"type":"line","color":"#e5484a","strokeWidth":1.2,"clip":true},
"encoding":{"x":{"field":"w","type":"quantitative","scale":{"domain":[1.5,1.76756],"nice":false,"zero":false},"axis":{"orient":"top","values":[1.5,1.55,1.6,1.65,1.7,1.75],"tickSize":-8,"labels":false,"title":null}},
"y":{"field":"f","type":"quantitative","scale":{"domain":[0.719,1.25],"nice":false,"zero":false},"axis":null}}},
{"data":{"name":"btB"},"mark":{"type":"line","color":"#5062e6","strokeWidth":1.2,"clip":true},
"encoding":{"x":{"field":"w","type":"quantitative","scale":{"domain":[1.5,1.76756],"nice":false,"zero":false},"axis":{"orient":"bottom","values":[1.51,1.52,1.53,1.54,1.56,1.57,1.58,1.59,1.61,1.62,1.63,1.64,1.66,1.67,1.68,1.69,1.71,1.72,1.73,1.74,1.76],"tickSize":-4,"labels":false,"domain":false,"title":null}},
"y":{"field":"f","type":"quantitative","scale":{"domain":[0.719,1.25],"nice":false,"zero":false},"axis":{"orient":"left","values":[0.72,0.74,0.76,0.78,0.82,0.84,0.86,0.88,0.92,0.94,0.96,0.98,1.02,1.04,1.06,1.08,1.12,1.14,1.16,1.18,1.22,1.24],"tickSize":-4,"labels":false,"domain":false,"title":null}}}},
{"data":{"name":"btL"},"mark":{"type":"rule","color":"#8a8a8a","strokeWidth":1.1,"strokeDash":[2,3]},
"encoding":{"x":{"field":"wt","type":"quantitative","scale":{"domain":[1.5,1.76756],"nice":false,"zero":false},"axis":{"orient":"top","values":[1.51,1.52,1.53,1.54,1.56,1.57,1.58,1.59,1.61,1.62,1.63,1.64,1.66,1.67,1.68,1.69,1.71,1.72,1.73,1.74,1.76],"tickSize":-4,"labels":false,"domain":false,"title":null}},"x2":{"field":"wl"},
"y":{"datum":1.149,"type":"quantitative","scale":{"domain":[0.719,1.25],"nice":false,"zero":false},"axis":null},"y2":{"datum":1.04}}},
{"data":{"name":"btL"},"mark":{"type":"text","angle":305,"align":"left","baseline":"alphabetic","fontSize":19,"font":"Liberation Sans","color":"#151515"},
"encoding":{"x":{"field":"wt","type":"quantitative","scale":{"domain":[1.5,1.76756],"nice":false,"zero":false},"axis":null},
"y":{"datum":1.1605,"type":"quantitative","scale":{"domain":[0.719,1.25],"nice":false,"zero":false},"axis":null},"text":{"field":"lab"}}}
],
"resolve":{"axis":{"x":"independent","y":"independent"}}}
],
"spacing":3
}
